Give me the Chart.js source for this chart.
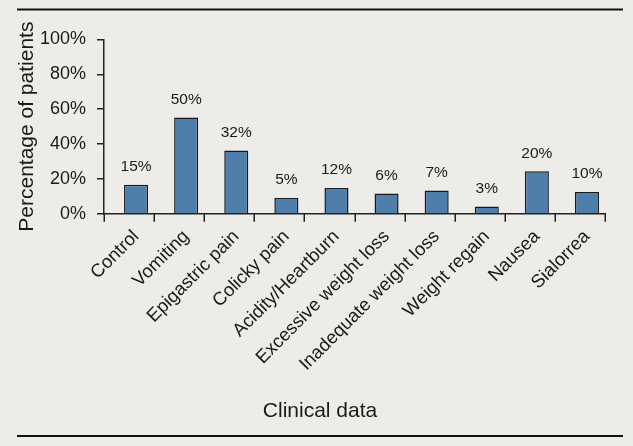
<!DOCTYPE html>
<html lang="en">
<head>
  <meta charset="UTF-8">
  <title>Clinical data</title>
  <script src="https://cdn.jsdelivr.net/npm/chart.js"></script>
  <style>
    html, body {
      margin: 0;
      padding: 0;
      background: #edece9;
    }
    #chart-container {
      width: 633px;
      height: 446px;
    }
  </style>
</head>
<body>
  <div id="chart-container">
    <canvas id="chart"></canvas>
  </div>

  <script>
    const categories = ['Control', 'Vomiting', 'Epigastric pain', 'Colicky pain', 'Acidity/Heartburn',
      'Excessive weight loss', 'Inadequate weight loss', 'Weight regain', 'Nausea', 'Sialorrea'];
    // bar heights as drawn (percent)
    const barValues = [16.7, 55.2, 36.3, 9.0, 14.8, 11.7, 13.4, 4.2, 24.4, 12.5];
    // labels printed above the bars
    const valueLabels = ['15%', '50%', '32%', '5%', '12%', '6%', '7%', '3%', '20%', '10%'];
    const yTicks = [0, 20, 40, 60, 80, 100];

    const FONT = "'Liberation Sans', Arial, Helvetica, sans-serif";
    const INK = '#1a1a1a';
    // in the original the bars sit a little right of the centre of their slot
    const SHIFT = 0.14;
    const xMin = -0.5 - SHIFT;
    const xMax = categories.length - 0.5 - SHIFT;

    const points = barValues.map((v, i) => ({ x: i, y: v }));

    // background plus the two black rules above and below the figure
    const framePlugin = {
      id: 'frame',
      beforeDraw(chart) {
        const ctx = chart.ctx;
        ctx.save();
        ctx.fillStyle = '#edece9';
        ctx.fillRect(0, 0, chart.width, chart.height);
        ctx.strokeStyle = '#111';
        ctx.lineWidth = 2;
        ctx.beginPath();
        ctx.moveTo(17, 9.5);
        ctx.lineTo(623, 9.5);
        ctx.moveTo(17, 436);
        ctx.lineTo(623, 436);
        ctx.stroke();
        ctx.restore();
      }
    };

    // slot separators hanging below the x axis
    const slotTickPlugin = {
      id: 'slotTicks',
      afterDraw(chart) {
        const ctx = chart.ctx;
        const sx = chart.scales.x;
        const y0 = chart.chartArea.bottom;
        ctx.save();
        ctx.strokeStyle = '#222';
        ctx.lineWidth = 1.5;
        ctx.beginPath();
        for (let i = 0; i <= categories.length; i++) {
          const px = Math.round(sx.getPixelForValue(xMin + i)) + 0.25;
          ctx.moveTo(px, y0);
          ctx.lineTo(px, y0 + 8);
        }
        ctx.stroke();
        ctx.restore();
      }
    };

    // percentage text above each bar
    const valueLabelPlugin = {
      id: 'valueLabels',
      afterDatasetsDraw(chart) {
        const ctx = chart.ctx;
        const meta = chart.getDatasetMeta(0);
        ctx.save();
        ctx.font = '15.5px ' + FONT;
        ctx.fillStyle = INK;
        ctx.textAlign = 'center';
        ctx.textBaseline = 'middle';
        meta.data.forEach((bar, i) => {
          ctx.fillText(valueLabels[i], bar.x, bar.y - 18);
        });
        ctx.restore();
      }
    };

    const ctx = document.getElementById('chart').getContext('2d');
    new Chart(ctx, {
      type: 'bar',
      data: {
        datasets: [{
          data: points,
          xAxisID: 'x',
          backgroundColor: '#4f7eab',
          borderColor: '#1a1a1a',
          borderWidth: 1.5,
          barPercentage: 0.48,
          categoryPercentage: 1
        }]
      },
      options: {
        responsive: true,
        maintainAspectRatio: false,
        animation: false,
        layout: {
          padding: { top: 39.5, left: 35, right: 28, bottom: 18 }
        },
        plugins: {
          legend: { display: false },
          tooltip: { enabled: false },
          title: {
            display: true,
            position: 'bottom',
            text: 'Clinical data',
            color: INK,
            font: { family: FONT, size: 21, weight: 'normal' },
            padding: { top: 4, bottom: 4 }
          }
        },
        scales: {
          // axis line; category names sit under the bars
          x: {
            type: 'linear',
            position: 'bottom',
            offset: false,
            min: xMin,
            max: xMax,
            afterBuildTicks(scale) {
              scale.ticks = categories.map((_, i) => ({ value: i }));
            },
            grid: { display: false, drawTicks: false, offset: false },
            border: { display: true, color: '#222', width: 1.5 },
            ticks: {
              color: INK,
              font: { family: FONT, size: 18.5 },
              minRotation: 45,
              maxRotation: 45,
              padding: 12,
              autoSkip: false,
              callback: v => categories[v]
            },
            afterFit(scale) { scale.height = 181; }
          },
          y: {
            min: 0,
            max: 100,
            afterBuildTicks(scale) {
              scale.ticks = yTicks.map(v => ({ value: v }));
            },
            grid: {
              display: true,
              drawOnChartArea: false,
              tickLength: 7,
              color: '#222',
              lineWidth: 1.5
            },
            border: { display: true, color: '#222', width: 1.5 },
            ticks: {
              color: INK,
              font: { family: FONT, size: 18 },
              padding: 11,
              callback: v => v + '%'
            },
            title: {
              display: true,
              text: 'Percentage of patients',
              color: INK,
              font: { family: FONT, size: 21 },
              padding: { top: -20, bottom: 0 }
            },
            afterFit(scale) { scale.width = 69; }
          }
        }
      },
      plugins: [framePlugin, slotTickPlugin, valueLabelPlugin]
    });
  </script>
</body>
</html>
